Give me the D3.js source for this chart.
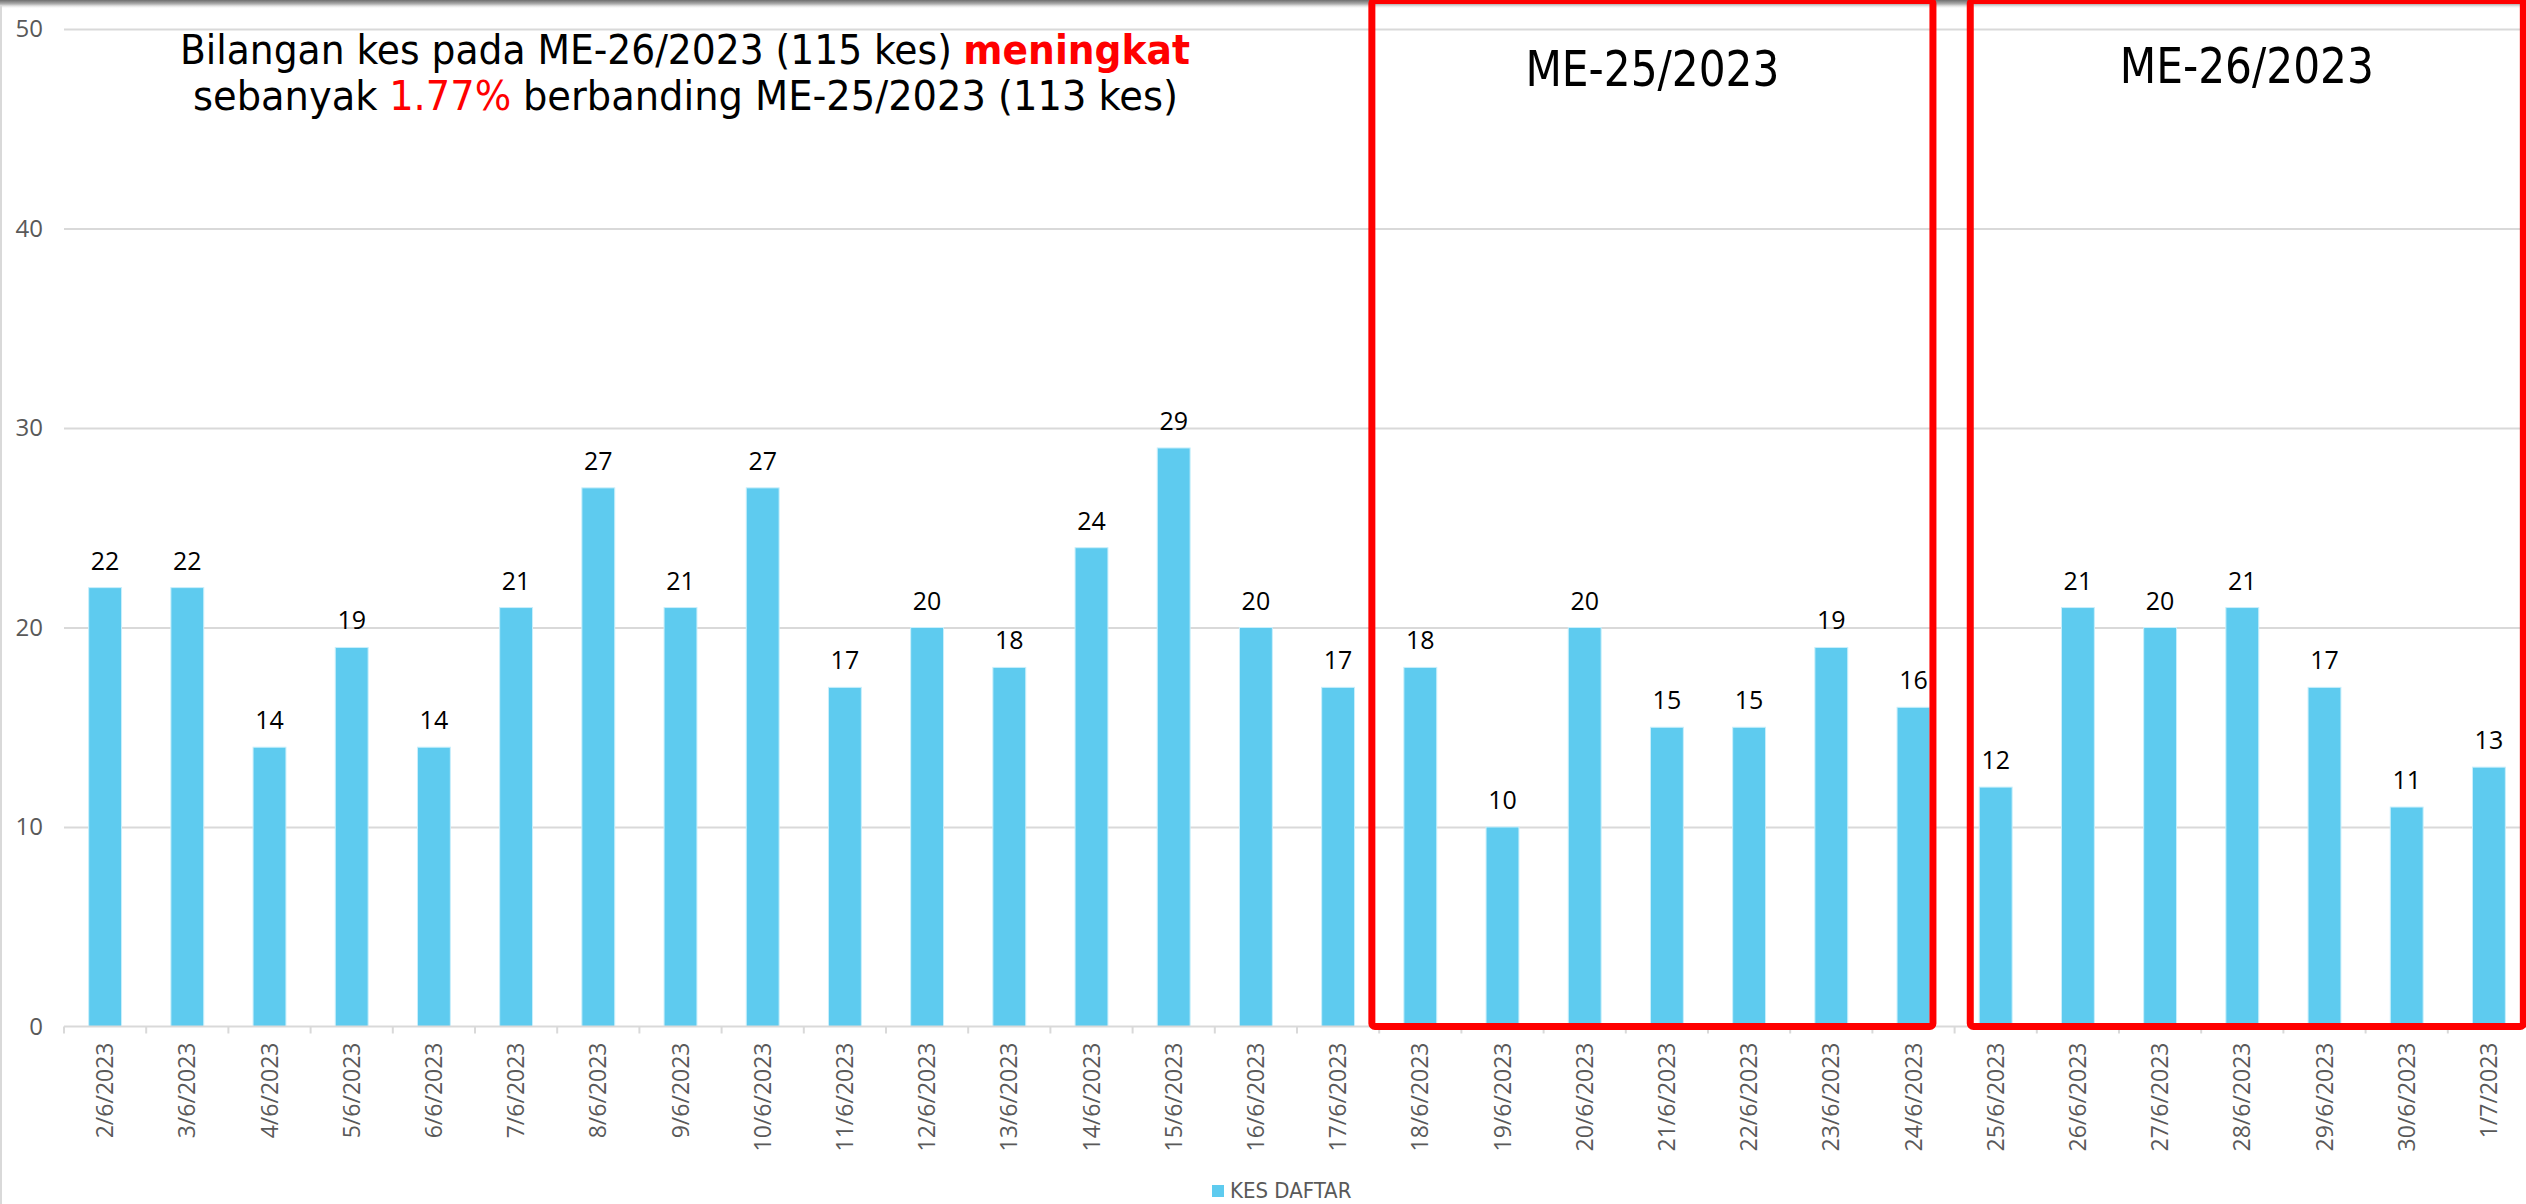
<!DOCTYPE html>
<html>
<head>
<meta charset="utf-8">
<script src="https://cdn.jsdelivr.net/npm/d3@7"></script>
<style>
  html, body { margin: 0; padding: 0; background: #ffffff; overflow: hidden; }
  svg { display: block; }
</style>
</head>
<body>
<svg id="chart" width="2526" height="1204"></svg>
<script>
// ---- data ----
const dates = ["2/6/2023","3/6/2023","4/6/2023","5/6/2023","6/6/2023","7/6/2023","8/6/2023","9/6/2023",
  "10/6/2023","11/6/2023","12/6/2023","13/6/2023","14/6/2023","15/6/2023","16/6/2023","17/6/2023",
  "18/6/2023","19/6/2023","20/6/2023","21/6/2023","22/6/2023","23/6/2023","24/6/2023",
  "25/6/2023","26/6/2023","27/6/2023","28/6/2023","29/6/2023","30/6/2023","1/7/2023"];
const kesDaftar = [22,22,14,19,14,21,27,21,27,17,20,18,24,29,20,17,18,10,20,15,15,19,16,12,21,20,21,17,11,13];
const yTicks = [0,10,20,30,40,50];
const seriesName = "KES DAFTAR";
const weekGroups = [
  { label: "ME-25/2023", first: "18/6/2023", last: "24/6/2023" },
  { label: "ME-26/2023", first: "25/6/2023", last: "1/7/2023" }
];
const titleLine1 = [
  { text: "Bilangan kes pada ME-26/2023 (115 kes)", color: "#000000", weight: 400 },
  { text: "meningkat", color: "#ff0000", weight: 700 }
];
const titleLine2 = [
  { text: "sebanyak", color: "#000000", weight: 400 },
  { text: "1.77%", color: "#ff0000", weight: 400 },
  { text: "berbanding ME-25/2023 (113 kes)", color: "#000000", weight: 400 }
];

// ---- layout ----
const svg = d3.select("#chart");
const plotLeft = 64, plotRight = 2530, plotTop = 29, plotBottom = 1026.5;
const barColor = "#5ecbef";
const axisGray = "#595959";
const condensed = "'DejaVu Sans Condensed', 'DejaVu Sans', sans-serif";

const x = d3.scaleBand().domain(dates).range([plotLeft, plotRight]).paddingInner(0.6).paddingOuter(0.3);
const y = d3.scaleLinear().domain([0, 50]).range([plotBottom, plotTop]);

// frame: top shadow, left border
const defs = svg.append("defs");
const grad = defs.append("linearGradient").attr("id", "shadow").attr("x1", 0).attr("y1", 0).attr("x2", 0).attr("y2", 1);
grad.append("stop").attr("offset", "0%").attr("stop-color", "#6e6e6e");
grad.append("stop").attr("offset", "45%").attr("stop-color", "#b0b0b0");
grad.append("stop").attr("offset", "100%").attr("stop-color", "#ffffff").attr("stop-opacity", 0);
svg.append("rect").attr("x", 0).attr("y", 0).attr("width", 2526).attr("height", 9).attr("fill", "url(#shadow)");
svg.append("line").attr("x1", 1).attr("x2", 1).attr("y1", 6).attr("y2", 1204)
  .attr("stroke", "#d9d9d9").attr("stroke-width", 2);

// gridlines
const gridG = svg.append("g")
  .attr("transform", `translate(${plotLeft},0)`)
  .call(d3.axisRight(y).tickValues(yTicks.filter(d => d > 0)).tickSize(plotRight - plotLeft).tickFormat(""));
gridG.select(".domain").remove();
gridG.selectAll(".tick line").attr("stroke", "#d9d9d9").attr("stroke-width", 2);

// y tick labels
const yAxisG = svg.append("g")
  .attr("transform", `translate(${plotLeft},0)`)
  .call(d3.axisLeft(y).tickValues(yTicks).tickSize(0).tickPadding(21));
yAxisG.select(".domain").remove();
yAxisG.selectAll(".tick text")
  .attr("fill", axisGray).style("font-family", "'Open Sans', sans-serif").style("font-size", "24px");

// bars
svg.append("g").selectAll("rect").data(dates).join("rect")
  .attr("x", d => x(d))
  .attr("y", (d, i) => y(kesDaftar[i]))
  .attr("width", x.bandwidth())
  .attr("height", (d, i) => y(0) - y(kesDaftar[i]))
  .attr("fill", barColor)
  .attr("stroke", "#c9effb").attr("stroke-width", 1);

// data labels
svg.append("g").selectAll("text").data(dates).join("text")
  .attr("x", d => x(d) + x.bandwidth() / 2)
  .attr("y", (d, i) => y(kesDaftar[i]) - 18)
  .attr("text-anchor", "middle")
  .style("font-family", "'Open Sans', sans-serif").style("font-size", "25px")
  .attr("fill", "#000000")
  .text((d, i) => kesDaftar[i]);

// x axis
const step = x.step();
const xAxisG = svg.append("g").attr("transform", `translate(0,${plotBottom})`);
xAxisG.append("line").attr("x1", plotLeft).attr("x2", plotRight).attr("y1", 0).attr("y2", 0)
  .attr("stroke", "#d9d9d9").attr("stroke-width", 2);
const boundaries = d3.range(dates.length + 1).map(i => plotLeft + i * step);
xAxisG.selectAll("line.tk").data(boundaries).join("line").attr("class", "tk")
  .attr("x1", d => d).attr("x2", d => d).attr("y1", 0).attr("y2", 7)
  .attr("stroke", "#d9d9d9").attr("stroke-width", 2);
xAxisG.selectAll("text").data(dates).join("text")
  .attr("transform", d => `translate(${x(d) + x.bandwidth() / 2},16) rotate(-90)`)
  .attr("text-anchor", "end").attr("dy", "0.35em")
  .attr("fill", axisGray)
  .style("font-family", "'Open Sans', sans-serif").style("font-size", "23px")
  .text(d => d);

// red week boxes
const boxOffsets = [{ l: 32, r: 3, ty: 86 }, { l: 9, r: 18, ty: 83 }];
weekGroups.forEach((g, k) => {
  const x0 = x(g.first) - boxOffsets[k].l;
  const x1 = x(g.last) + x.bandwidth() + boxOffsets[k].r;
  svg.append("rect")
    .attr("x", x0).attr("y", 0.5).attr("width", x1 - x0).attr("height", plotBottom - 0.5)
    .attr("rx", 3).attr("fill", "none").attr("stroke", "#ff0000").attr("stroke-width", 7);
  svg.append("text")
    .attr("x", (x0 + x1) / 2).attr("y", boxOffsets[k].ty)
    .attr("text-anchor", "middle")
    .attr("textLength", 254).attr("lengthAdjust", "spacingAndGlyphs")
    .style("font-family", condensed).style("font-size", "50px")
    .attr("fill", "#000000")
    .text(g.label);
});

// title: each coloured part is its own text element, scaled to fit the line width
function titleLine(parts, left, by, len) {
  const fs = 40, gap = 11;
  const nodes = parts.map(p => svg.append("text")
    .attr("y", by)
    .style("font-family", condensed).style("font-size", fs + "px")
    .attr("font-weight", p.weight).attr("fill", p.color)
    .text(p.text));
  const widths = nodes.map(n => n.node().getComputedTextLength());
  const natural = d3.sum(widths) + gap * (parts.length - 1);
  const s = len / natural;
  let cx = left;
  nodes.forEach((n, i) => {
    const w = widths[i] * s;
    n.attr("x", cx).attr("textLength", w).attr("lengthAdjust", "spacingAndGlyphs");
    cx += w + gap * s;
  });
}
titleLine(titleLine1, 180, 64, 1010);
titleLine(titleLine2, 193, 110, 985);

// legend
const legend = svg.append("g").attr("transform", "translate(1212,1185)");
legend.append("rect").attr("x", 0).attr("y", 0).attr("width", 12).attr("height", 12).attr("fill", barColor);
legend.append("text").attr("x", 18).attr("y", 13)
  .attr("fill", axisGray)
  .style("font-family", condensed).style("font-size", "22px")
  .text(seriesName);
</script>
</body>
</html>
